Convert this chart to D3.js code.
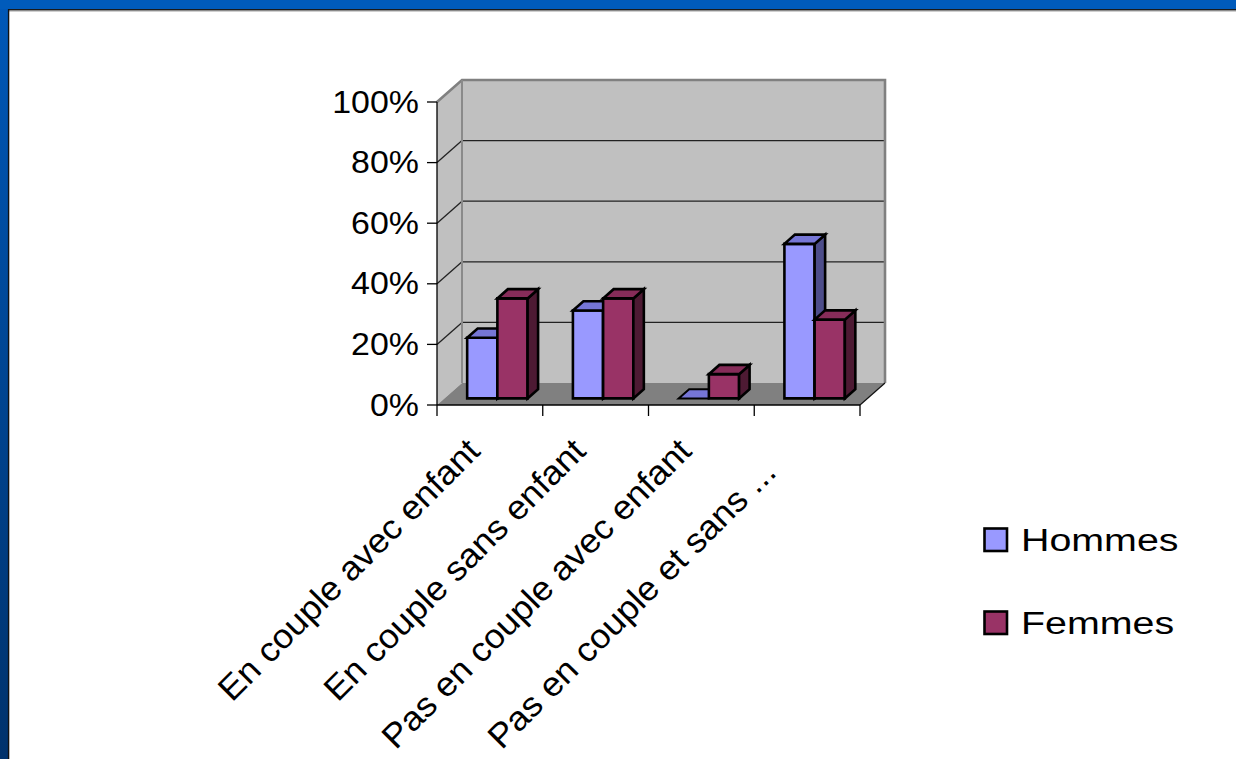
<!DOCTYPE html>
<html>
<head>
<meta charset="utf-8">
<script src="https://cdn.jsdelivr.net/npm/d3@7/dist/d3.min.js"></script>
<style>
  html, body { margin: 0; padding: 0; background: #fff; }
  svg { display: block; }
  text { font-family: "Liberation Sans", Arial, sans-serif; fill: #000; }
</style>
</head>
<body>
<svg id="chart" width="1236" height="759"></svg>
<script>
// ---- data ----
const categories = ["En couple avec enfant", "En couple sans enfant", "Pas en couple avec enfant", "Pas en couple et sans ..."];
const seriesNames = ["Hommes", "Femmes"];
const hommes = [20, 29, 0, 51];
const femmes = [33, 33, 8, 26];
const yTicks = [0, 20, 40, 60, 80, 100];
const yTickLabels = ["0%", "20%", "40%", "60%", "80%", "100%"];

// ---- style ----
const colors = {
  Hommes: { front: "#9999ff", top: "#7676d6", side: "#4d4d8a" },
  Femmes: { front: "#993366", top: "#862c59", side: "#4d1a33" }
};

const svg = d3.select("#chart");
const W = 1236, H = 759;

// slide frame
const defs = svg.append("defs");
const lg = defs.append("linearGradient").attr("id", "leftBlue").attr("x1", 0).attr("y1", 0).attr("x2", 0).attr("y2", 1);
lg.append("stop").attr("offset", 0).attr("stop-color", "#0058b8");
lg.append("stop").attr("offset", 1).attr("stop-color", "#00326c");
svg.append("rect").attr("x", 0).attr("y", 0).attr("width", W).attr("height", H).attr("fill", "#fff");
svg.append("rect").attr("x", 0).attr("y", 0).attr("width", 9).attr("height", H).attr("fill", "url(#leftBlue)");
svg.append("rect").attr("x", 0).attr("y", 0).attr("width", W).attr("height", 9).attr("fill", "#005bbb");
svg.append("line").attr("x1", 9).attr("y1", 9.8).attr("x2", W).attr("y2", 9.8).attr("stroke", "#1a1a1a").attr("stroke-width", 1.6);
svg.append("line").attr("x1", 9).attr("y1", 11).attr("x2", W).attr("y2", 11).attr("stroke", "#888").attr("stroke-width", 0.8);
svg.append("line").attr("x1", 8.6).attr("y1", 9).attr("x2", 8.6).attr("y2", H).attr("stroke", "#111").attr("stroke-width", 1.4);

// ---- scales ----
const x = d3.scaleBand().domain(categories).range([437, 860]).paddingInner(0).paddingOuter(0);
const y = d3.scaleLinear().domain([0, 100]).range([405, 102]);
const depth = { dx: 25, dy: -22 };          // full floor depth
const barFront = 0.3, barDepth = 0.42;      // fraction of depth
const gapWidth = 1.5;                        // Excel gap width 150%
const bw = x.bandwidth() / (2 + gapWidth);
const sub = d3.scaleBand().domain(seriesNames).range([bw * gapWidth / 2, bw * gapWidth / 2 + 2 * bw]).padding(0);

const xl = x.range()[0], xr = x.range()[1];
const y0 = y(0), y1 = y(100);

const P = (px, py, f) => [px + depth.dx * f, py + depth.dy * f];
const poly = pts => "M" + pts.map(p => p.join(",")).join("L") + "Z";

const g = svg.append("g");

// side wall (left)
g.append("path").attr("d", poly([[xl, y0], [xl, y1], P(xl, y1, 1), P(xl, y0, 1)])).attr("fill", "#c0c0c0");
// back wall
g.append("path").attr("d", poly([P(xl, y1, 1), P(xr, y1, 1), P(xr, y0, 1), P(xl, y0, 1)])).attr("fill", "#c0c0c0");
// floor
g.append("path").attr("d", poly([[xl, y0], [xr, y0], P(xr, y0, 1), P(xl, y0, 1)])).attr("fill", "#808080");

// gridlines
yTicks.filter(t => t > 0 && t < 100).forEach(t => {
  const a = P(xl, y(t), 1), b = P(xr, y(t), 1);
  g.append("line").attr("x1", a[0]).attr("y1", a[1]).attr("x2", b[0]).attr("y2", b[1]).attr("stroke", "#222").attr("stroke-width", 1.3);
  g.append("line").attr("x1", xl).attr("y1", y(t)).attr("x2", a[0]).attr("y2", a[1]).attr("stroke", "#222").attr("stroke-width", 1.3);
});

// wall borders
const bl = P(xl, y0, 1), tl = P(xl, y1, 1), tr = P(xr, y1, 1), br = P(xr, y0, 1);
g.append("path").attr("d", `M${xl},${y1}L${tl}L${tr}L${br}`).attr("fill", "none").attr("stroke", "#808080").attr("stroke-width", 2.6);
g.append("line").attr("x1", tl[0]).attr("y1", tl[1]).attr("x2", bl[0]).attr("y2", bl[1]).attr("stroke", "#8a8a8a").attr("stroke-width", 2);
g.append("line").attr("x1", xr).attr("y1", y0).attr("x2", br[0]).attr("y2", br[1]).attr("stroke", "#111").attr("stroke-width", 1.2);

// bars
const seriesData = [hommes, femmes];
categories.forEach((c, i) => {
  seriesNames.forEach((s, k) => {
    const v = seriesData[k][i];
    const col = colors[s];
    const a = x(c) + sub(s), b = a + sub.bandwidth();
    const yt = y(v);
    const fa = P(a, y0, barFront), fb = P(b, y0, barFront);
    const ta = P(a, yt, barFront), tb = P(b, yt, barFront);
    const tbk = P(b, yt, barFront + barDepth), tak = P(a, yt, barFront + barDepth);
    const fbk = P(b, y0, barFront + barDepth);
    const bar = g.append("g").attr("stroke", "#000").attr("stroke-width", 2.6).attr("stroke-linejoin", "miter");
    if (v > 0) {
      bar.append("path").attr("d", poly([fa, fb, tb, ta])).attr("fill", col.front);
      bar.append("path").attr("d", poly([fb, fbk, tbk, tb])).attr("fill", col.side);
    }
    bar.append("path").attr("d", poly([ta, tb, tbk, tak])).attr("fill", col.top).attr("stroke-width", v > 0 ? 2.6 : 2);
  });
});

// axes lines
const axis = svg.append("g").attr("stroke", "#000");
axis.append("line").attr("x1", xl).attr("y1", y1).attr("x2", xl).attr("y2", y0).attr("stroke-width", 1.3);
axis.append("line").attr("x1", xl).attr("y1", y0).attr("x2", xr).attr("y2", y0).attr("stroke-width", 1.3);
yTicks.forEach(t => {
  axis.append("line").attr("x1", xl - 10).attr("y1", y(t)).attr("x2", xl).attr("y2", y(t)).attr("stroke-width", 1.3);
});
const bounds = categories.map(c => x(c)).concat([xr]);
bounds.forEach(bx => {
  axis.append("line").attr("x1", bx).attr("y1", y0).attr("x2", bx).attr("y2", y0 + 11).attr("stroke-width", 1.3);
});

// y labels
yTicks.forEach((t, i) => {
  svg.append("text")
    .attr("transform", `translate(419,${y(t) + 10.5}) scale(1.06,1)`)
    .attr("text-anchor", "end")
    .attr("font-size", 32)
    .text(yTickLabels[i]);
});

// x labels
categories.forEach((c, i) => {
  const cx = x(c) + x.bandwidth() / 2;
  svg.append("text")
    .attr("transform", `translate(${cx - 8},${453}) rotate(-45) scale(1.05,1)`)
    .attr("text-anchor", "end")
    .attr("font-size", 34)
    .style("white-space", "pre")
    .text(i === 3 ? c + "   " : c);
});

// legend
const legY = [540, 623];
seriesNames.forEach((s, k) => {
  svg.append("rect").attr("x", 984.5).attr("y", legY[k] - 11.5).attr("width", 22.5).attr("height", 22.5)
    .attr("fill", colors[s].front).attr("stroke", "#000").attr("stroke-width", 2.6);
  svg.append("text")
    .attr("transform", `translate(1021,${legY[k] + 11}) scale(1.27,1)`)
    .attr("font-size", 31)
    .text(s);
});
</script>
</body>
</html>
